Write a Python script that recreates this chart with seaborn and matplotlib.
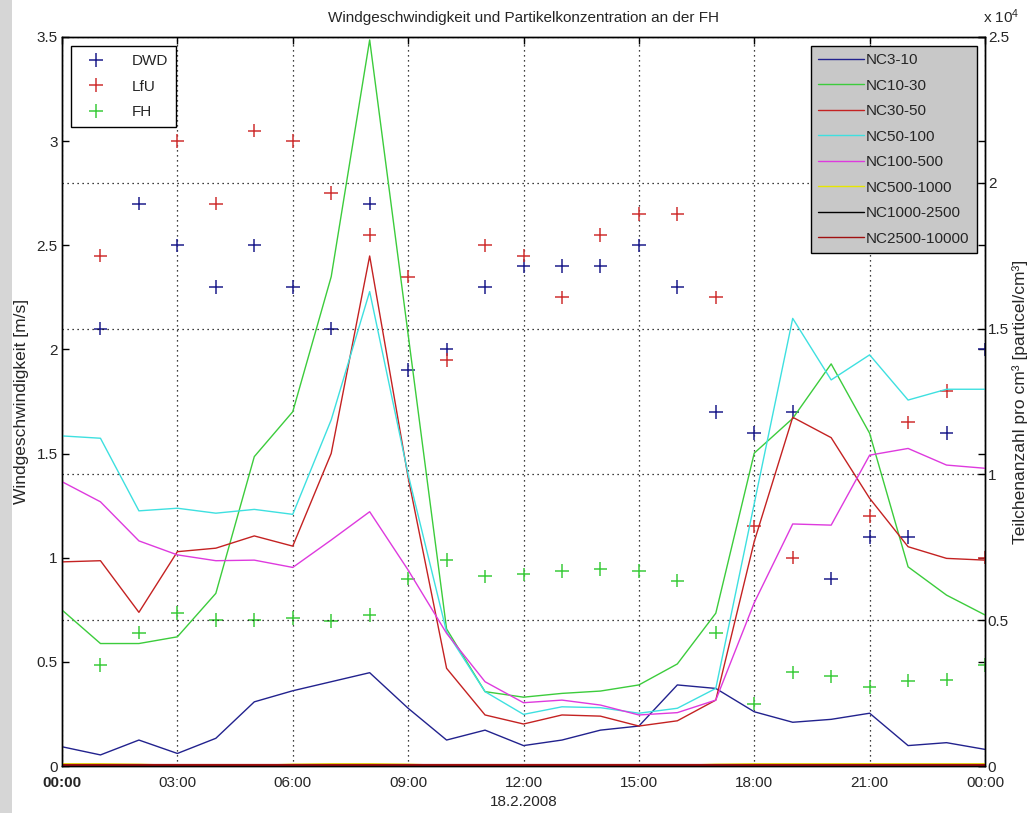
import numpy as np
import pandas as pd
import matplotlib
matplotlib.use("Agg")
import matplotlib.pyplot as plt
import seaborn as sns
from matplotlib.ticker import FuncFormatter
from matplotlib.lines import Line2D
from matplotlib.patches import Rectangle

# ---------------- data ----------------
hours = list(range(25))                 # 00:00 ... 24:00 (hourly particle data)
wind_hours = list(range(1, 25))         # hourly wind data 01:00 ... 24:00

dwd = [2.1, 2.7, 2.5, 2.3, 2.5, 2.3, 2.1, 2.7, 1.9, 2.0, 2.3, 2.4,
       2.4, 2.4, 2.5, 2.3, 1.7, 1.6, 1.7, 0.9, 1.1, 1.1, 1.6, 2.0]
lfu = [2.45, np.nan, 3.0, 2.7, 3.05, 3.0, 2.75, 2.55, 2.35, 1.95, 2.5, 2.45,
       2.25, 2.55, 2.65, 2.65, 2.25, 1.15, 1.0, np.nan, 1.2, 1.65, 1.8, 1.0]
fh = [0.485, 0.64, 0.735, 0.70, 0.70, 0.71, 0.695, 0.725, 0.90, 0.99, 0.91, 0.92,
      0.935, 0.945, 0.935, 0.89, 0.64, 0.30, 0.45, 0.43, 0.38, 0.41, 0.415, 0.485]

nc3_10 = [660, 380, 890, 430, 950, 2200, 2580, 2890, 3200, 1980, 890, 1230, 700,
          890, 1230, 1370, 2780, 2660, 1860, 1500, 1600, 1810, 700, 800, 570]
nc10_30 = [5350, 4200, 4200, 4430, 5920, 10610, 12150, 16780, 24900, 14800, 4700, 2550, 2360,
           2490, 2570, 2780, 3500, 5240, 10730, 11920, 13790, 11410, 6830, 5860, 5180]
nc30_50 = [7000, 7040, 5270, 7350, 7470, 7890, 7540, 10720, 17490, 9900, 3350, 1750, 1440,
           1750, 1710, 1370, 1550, 2260, 7700, 11960, 11260, 9180, 7520, 7120, 7060]
nc50_100 = [11320, 11240, 8750, 8840, 8670, 8800, 8630, 11870, 16270, 10000, 4600, 2550, 1770,
            2030, 2000, 1810, 1980, 2660, 9000, 15350, 13240, 14100, 12550, 12920, 12920]
nc100_500 = [9750, 9060, 7720, 7240, 7040, 7060, 6810, 7750, 8720, 6720, 4550, 2890, 2170,
             2260, 2090, 1750, 1830, 2260, 5600, 8300, 8260, 10660, 10890, 10320, 10210]
nc500_1000 = [75, 75, 60, 20, 20, 20, 60, 75, 75, 60, 20, 20, 20,
              20, 20, 20, 20, 60, 75, 75, 75, 75, 75, 75, 75]
nc1000_2500 = [5, 5, 5, 5, 5, 5, 5, 5, 5, 5, 5, 5, 5,
               5, 5, 5, 5, 5, 5, 5, 5, 5, 5, 5, 5]
nc2500_10000 = [30, 30, 30, 30, 30, 30, 30, 30, 30, 30, 30, 30, 30,
                30, 30, 30, 30, 30, 30, 30, 30, 30, 30, 30, 30]

series_names = ["NC3-10", "NC10-30", "NC30-50", "NC50-100", "NC100-500",
                "NC500-1000", "NC1000-2500", "NC2500-10000"]
series_values = [nc3_10, nc10_30, nc30_50, nc50_100, nc100_500,
                 nc500_1000, nc1000_2500, nc2500_10000]
wind_names = ["DWD", "LfU", "FH"]
wind_values = [dwd, lfu, fh]
xtick_hours = [0, 3, 6, 9, 12, 15, 18, 21, 24]
xtick_labels = ["00:00", "03:00", "06:00", "09:00", "12:00", "15:00", "18:00", "21:00", "00:00"]

# ---------------- styles ----------------
line_colors = {"NC3-10": "#22228e", "NC10-30": "#3ccc3c", "NC30-50": "#c42222",
               "NC50-100": "#3ee0e0", "NC100-500": "#de3ade", "NC500-1000": "#e6e600",
               "NC1000-2500": "#000000", "NC2500-10000": "#a01010"}
line_widths = {n: 1.0 for n in series_names}
line_widths["NC2500-10000"] = 1.6
wind_colors = {"DWD": "#1e1e8c", "LfU": "#d03232", "FH": "#3ccc3c"}

lines_df = pd.concat([pd.DataFrame({"hour": hours, "count": v, "series": n})
                      for n, v in zip(series_names, series_values)], ignore_index=True)
wind_df = pd.concat([pd.DataFrame({"hour": wind_hours, "speed": v, "source": n})
                     for n, v in zip(wind_names, wind_values)], ignore_index=True)

sns.set_theme(style="white")
plt.rcParams["font.family"] = ["Liberation Sans", "DejaVu Sans"]
plt.rcParams["mathtext.default"] = "regular"
FS = 11
LFS = 12.5

fig = plt.figure(figsize=(10.29, 8.13), dpi=100, facecolor="white")
fig.patches.append(Rectangle((0, 0), 12 / 1029, 1, transform=fig.transFigure,
                             facecolor="#d6d6d6", edgecolor="none", zorder=-5))
ax = fig.add_axes([62 / 1029, 1 - 766 / 813, 923 / 1029, 729 / 813])
ax2 = ax.twinx()

# wind speed markers (left axis)
sns.scatterplot(data=wind_df, x="hour", y="speed", hue="source", palette=wind_colors,
                marker="+", s=95, linewidth=1.1, ax=ax, legend=False)
# particle concentration lines (right axis)
for n in series_names:
    sns.lineplot(data=lines_df[lines_df["series"] == n], x="hour", y="count",
                 color=line_colors[n], linewidth=line_widths[n], ax=ax2,
                 legend=False, sort=False)

ax.set_xlim(0, 24)
ax.set_ylim(0, 3.5)
ax2.set_ylim(0, 25000)
ax.set_xticks(xtick_hours)
ax.set_xticklabels(xtick_labels, fontsize=FS)
ax.get_xticklabels()[0].set_fontweight("bold")
ax.set_yticks(np.arange(0, 3.51, 0.5))
ax.set_yticklabels(["0", "0.5", "1", "1.5", "2", "2.5", "3", "3.5"], fontsize=FS)
ax2.set_yticks(np.arange(0, 25001, 5000))
ax2.yaxis.set_major_formatter(FuncFormatter(lambda v, p: "%g" % (v / 1e4)))
for t in ax2.get_yticklabels():
    t.set_fontsize(FS)

ax.tick_params(axis="y", direction="in", length=5, width=1, color="black",
               right=True, labelright=False, pad=3)
ax.tick_params(axis="x", direction="in", length=5, width=1, color="black",
               top=True, labeltop=False, pad=7)
ax2.tick_params(axis="y", direction="in", length=5, width=1, color="black", pad=2)

ax.grid(False)
ax2.grid(False)
ax.xaxis.grid(True, linestyle=(0, (1, 3)), color="black", linewidth=0.9)
ax2.yaxis.grid(True, linestyle=(0, (1, 3)), color="black", linewidth=0.9)

for a in (ax, ax2):
    for s in a.spines.values():
        s.set_color("black")
        s.set_linewidth(1.0)

ax.set_xlabel("18.2.2008", fontsize=FS, labelpad=4)
ax.set_ylabel("Windgeschwindigkeit [m/s]", fontsize=LFS)
ax.yaxis.set_label_coords(-33 / 923, 0.5)
ax2.set_ylabel("Teilchenanzahl pro cm³ [particel/cm³]", fontsize=LFS)
ax2.yaxis.set_label_coords(1 + 27 / 923, 0.5)
ax.set_title("Windgeschwindigkeit und Partikelkonzentration an der FH", fontsize=FS, pad=11)
fig.text(983 / 1029, 1 - 26 / 813, "x 10$^4$", fontsize=FS, ha="left", va="bottom")

# legends
h1 = [Line2D([], [], linestyle="none", marker="+", markersize=9.5, markeredgewidth=1.1,
             color=wind_colors[n]) for n in wind_names]
leg1 = ax2.legend(h1, wind_names, loc="upper left", bbox_to_anchor=(0.0098, 0.988),
                  fontsize=FS, frameon=True, fancybox=False, edgecolor="black",
                  facecolor="white", framealpha=1, handlelength=2.2, handletextpad=1.2,
                  labelspacing=0.75, borderpad=0.55, borderaxespad=0)
leg1.get_frame().set_linewidth(1.0)
ax2.add_artist(leg1)
h2 = [Line2D([], [], color=line_colors[n], linewidth=1.0) for n in series_names]
leg2 = ax2.legend(h2, series_names, loc="upper right", bbox_to_anchor=(0.991, 0.988),
                  fontsize=FS, frameon=True, fancybox=False, edgecolor="black",
                  facecolor="#c8c8c8", framealpha=1, handlelength=3.0, handletextpad=0.1,
                  labelspacing=0.75, borderpad=0.5, borderaxespad=0)
leg2.get_frame().set_linewidth(1.0)

fig.savefig("out.png", dpi=100, facecolor="white")
